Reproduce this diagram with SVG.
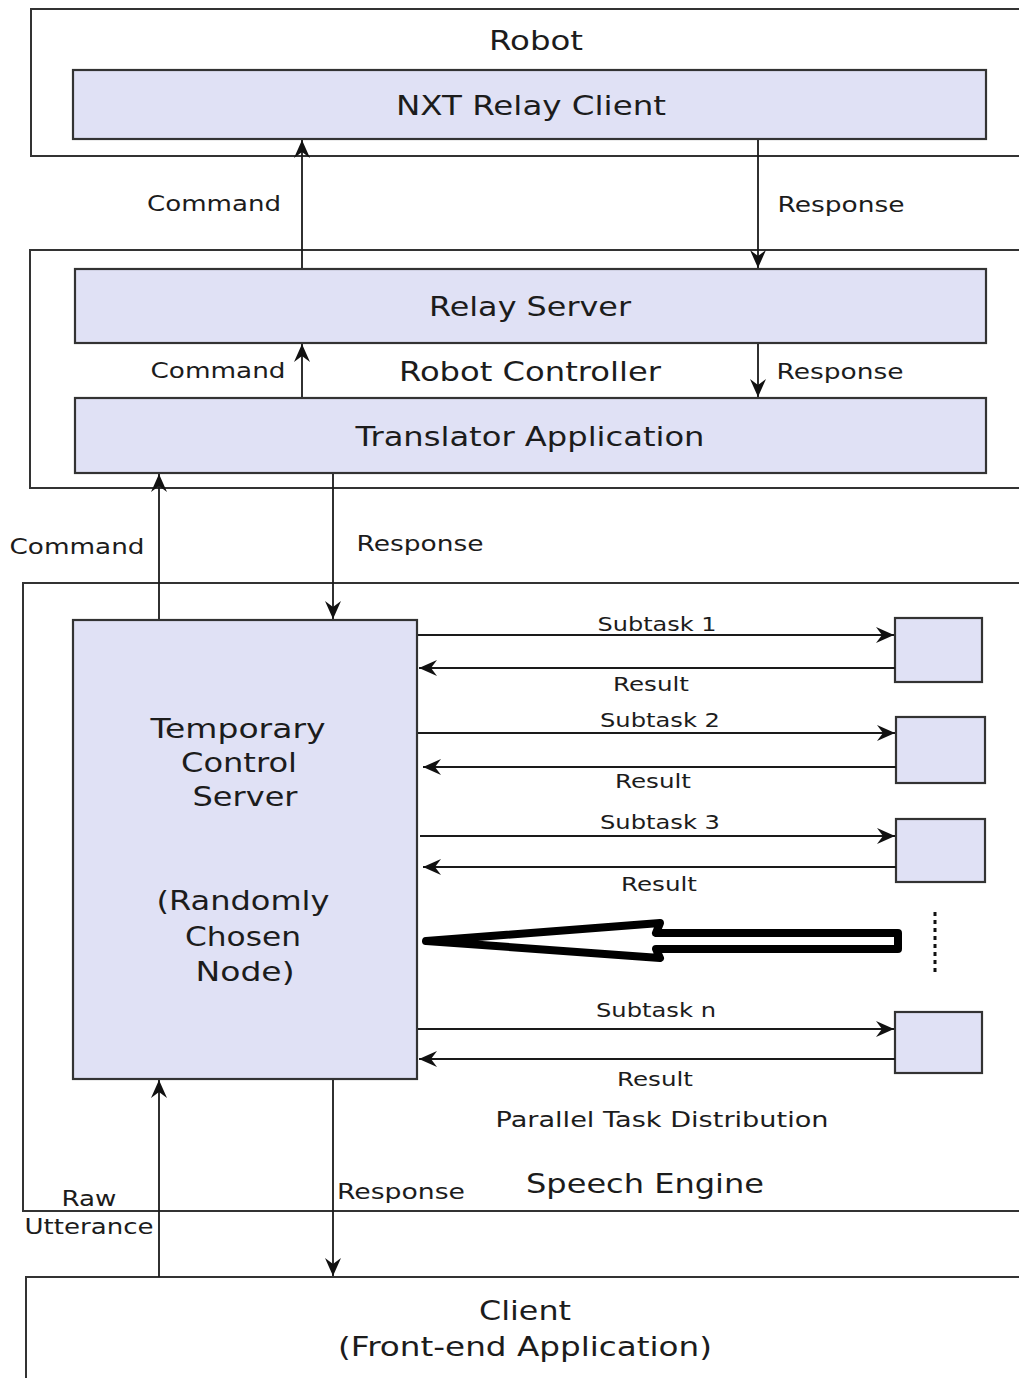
<svg xmlns="http://www.w3.org/2000/svg" width="1019" height="1378" viewBox="0 0 1019 1378">
<style>
.outer{fill:#ffffff;stroke:#333333;stroke-width:2}
.box{fill:#e0e1f5;stroke:#333333;stroke-width:2.2}
.ln{stroke:#1a1a1a;stroke-width:1.8;fill:none}
text{font-family:"DejaVu Sans","Verdana",sans-serif;fill:#1c1c1c;text-anchor:middle}
.lg{font-size:27px}
.md{font-size:22px}
.sm{font-size:19px}
</style>
<defs>
<marker id="ah" viewBox="0 0 18 16" refX="18" refY="8" markerWidth="18" markerHeight="16" markerUnits="userSpaceOnUse" orient="auto">
<path d="M0,0 L18,8 L0,16 L6,8 z" fill="#111111"/>
</marker>
</defs>
<rect width="1019" height="1378" fill="#ffffff"/>

<g id="robot">
<rect class="outer" x="31" y="9" width="1000" height="147"/>
<text class="lg" x="536" y="50" textLength="94" lengthAdjust="spacingAndGlyphs">Robot</text>
</g>
<g id="nxt-relay-client">
<rect class="box" x="73" y="70" width="913" height="69"/>
<text class="lg" x="531" y="115" textLength="270" lengthAdjust="spacingAndGlyphs">NXT Relay Client</text>
</g>

<g id="robot-controller">
<rect class="outer" x="30" y="250" width="1001" height="238"/>
<text class="lg" x="530" y="381" textLength="262" lengthAdjust="spacingAndGlyphs">Robot Controller</text>
</g>
<g id="relay-server">
<rect class="box" x="75" y="269" width="911" height="74"/>
<text class="lg" x="530" y="316" textLength="202" lengthAdjust="spacingAndGlyphs">Relay Server</text>
</g>
<g id="translator-application">
<rect class="box" x="75" y="398" width="911" height="75"/>
<text class="lg" x="530" y="446" textLength="349" lengthAdjust="spacingAndGlyphs">Translator Application</text>
</g>

<g id="speech-engine">
<rect class="outer" x="23" y="583" width="1008" height="628"/>
<text class="lg" x="645" y="1193" textLength="238" lengthAdjust="spacingAndGlyphs">Speech Engine</text>
<text class="md" x="662" y="1127" textLength="333" lengthAdjust="spacingAndGlyphs">Parallel Task Distribution</text>
</g>
<g id="temporary-control-server">
<rect class="box" x="73" y="620" width="344" height="459"/>
<text class="lg" x="238" y="738" textLength="175" lengthAdjust="spacingAndGlyphs">Temporary</text>
<text class="lg" x="239" y="772" textLength="116" lengthAdjust="spacingAndGlyphs">Control</text>
<text class="lg" x="245" y="806" textLength="105" lengthAdjust="spacingAndGlyphs">Server</text>
<text class="lg" x="243" y="910" textLength="173" lengthAdjust="spacingAndGlyphs">(Randomly</text>
<text class="lg" x="243" y="946" textLength="116" lengthAdjust="spacingAndGlyphs">Chosen</text>
<text class="lg" x="245" y="981" textLength="99" lengthAdjust="spacingAndGlyphs">Node)</text>
</g>
<g id="worker-1"><rect class="box" x="895" y="618" width="87" height="64"/></g>
<g id="worker-2"><rect class="box" x="896" y="717" width="89" height="66"/></g>
<g id="worker-3"><rect class="box" x="896" y="819" width="89" height="63"/></g>
<g id="worker-n"><rect class="box" x="895" y="1012" width="87" height="61"/></g>

<g id="client">
<rect class="outer" x="26" y="1277" width="1005" height="120"/>
<text class="lg" x="525" y="1320" textLength="92" lengthAdjust="spacingAndGlyphs">Client</text>
<text class="lg" x="525" y="1356" textLength="374" lengthAdjust="spacingAndGlyphs">(Front-end Application)</text>
</g>

<g id="connectors">
<line class="ln" x1="302" y1="268" x2="302" y2="140" marker-end="url(#ah)"/>
<line class="ln" x1="758" y1="140" x2="758" y2="268" marker-end="url(#ah)"/>
<text class="md" x="214" y="211" textLength="134" lengthAdjust="spacingAndGlyphs">Command</text>
<text class="md" x="841" y="212" textLength="127" lengthAdjust="spacingAndGlyphs">Response</text>

<line class="ln" x1="302" y1="397" x2="302" y2="344" marker-end="url(#ah)"/>
<line class="ln" x1="758" y1="344" x2="758" y2="397" marker-end="url(#ah)"/>
<text class="md" x="218" y="378" textLength="135" lengthAdjust="spacingAndGlyphs">Command</text>
<text class="md" x="840" y="379" textLength="127" lengthAdjust="spacingAndGlyphs">Response</text>

<line class="ln" x1="159" y1="619" x2="159" y2="474" marker-end="url(#ah)"/>
<line class="ln" x1="333" y1="474" x2="333" y2="619" marker-end="url(#ah)"/>
<text class="md" x="77" y="554" textLength="135" lengthAdjust="spacingAndGlyphs">Command</text>
<text class="md" x="420" y="551" textLength="127" lengthAdjust="spacingAndGlyphs">Response</text>

<line class="ln" x1="418" y1="635" x2="894" y2="635" marker-end="url(#ah)"/>
<line class="ln" x1="895" y1="668" x2="419" y2="668" marker-end="url(#ah)"/>
<text class="sm" x="657" y="631" textLength="119" lengthAdjust="spacingAndGlyphs">Subtask 1</text>
<text class="sm" x="651" y="691" textLength="76" lengthAdjust="spacingAndGlyphs">Result</text>

<line class="ln" x1="418" y1="733" x2="895" y2="733" marker-end="url(#ah)"/>
<line class="ln" x1="896" y1="767" x2="423" y2="767" marker-end="url(#ah)"/>
<text class="sm" x="660" y="727" textLength="120" lengthAdjust="spacingAndGlyphs">Subtask 2</text>
<text class="sm" x="653" y="788" textLength="76" lengthAdjust="spacingAndGlyphs">Result</text>

<line class="ln" x1="420" y1="836" x2="895" y2="836" marker-end="url(#ah)"/>
<line class="ln" x1="896" y1="867" x2="423" y2="867" marker-end="url(#ah)"/>
<text class="sm" x="660" y="829" textLength="120" lengthAdjust="spacingAndGlyphs">Subtask 3</text>
<text class="sm" x="659" y="891" textLength="76" lengthAdjust="spacingAndGlyphs">Result</text>

<polygon points="426,941 660,923 656,933 898,933 898,949 656,949 660,958" fill="#ffffff" stroke="#000000" stroke-width="8" stroke-linejoin="round"/>
<line x1="935" y1="912" x2="935" y2="976" stroke="#111111" stroke-width="3" stroke-dasharray="4,4"/>

<line class="ln" x1="418" y1="1029" x2="894" y2="1029" marker-end="url(#ah)"/>
<line class="ln" x1="895" y1="1059" x2="419" y2="1059" marker-end="url(#ah)"/>
<text class="sm" x="656" y="1017" textLength="120" lengthAdjust="spacingAndGlyphs">Subtask n</text>
<text class="sm" x="655" y="1086" textLength="76" lengthAdjust="spacingAndGlyphs">Result</text>

<line class="ln" x1="159" y1="1277" x2="159" y2="1080" marker-end="url(#ah)"/>
<line class="ln" x1="333" y1="1080" x2="333" y2="1276" marker-end="url(#ah)"/>
<text class="md" x="89" y="1206" textLength="55" lengthAdjust="spacingAndGlyphs">Raw</text>
<text class="md" x="89" y="1234" textLength="129" lengthAdjust="spacingAndGlyphs">Utterance</text>
<text class="md" x="401" y="1199" textLength="128" lengthAdjust="spacingAndGlyphs">Response</text>
</g>
</svg>
